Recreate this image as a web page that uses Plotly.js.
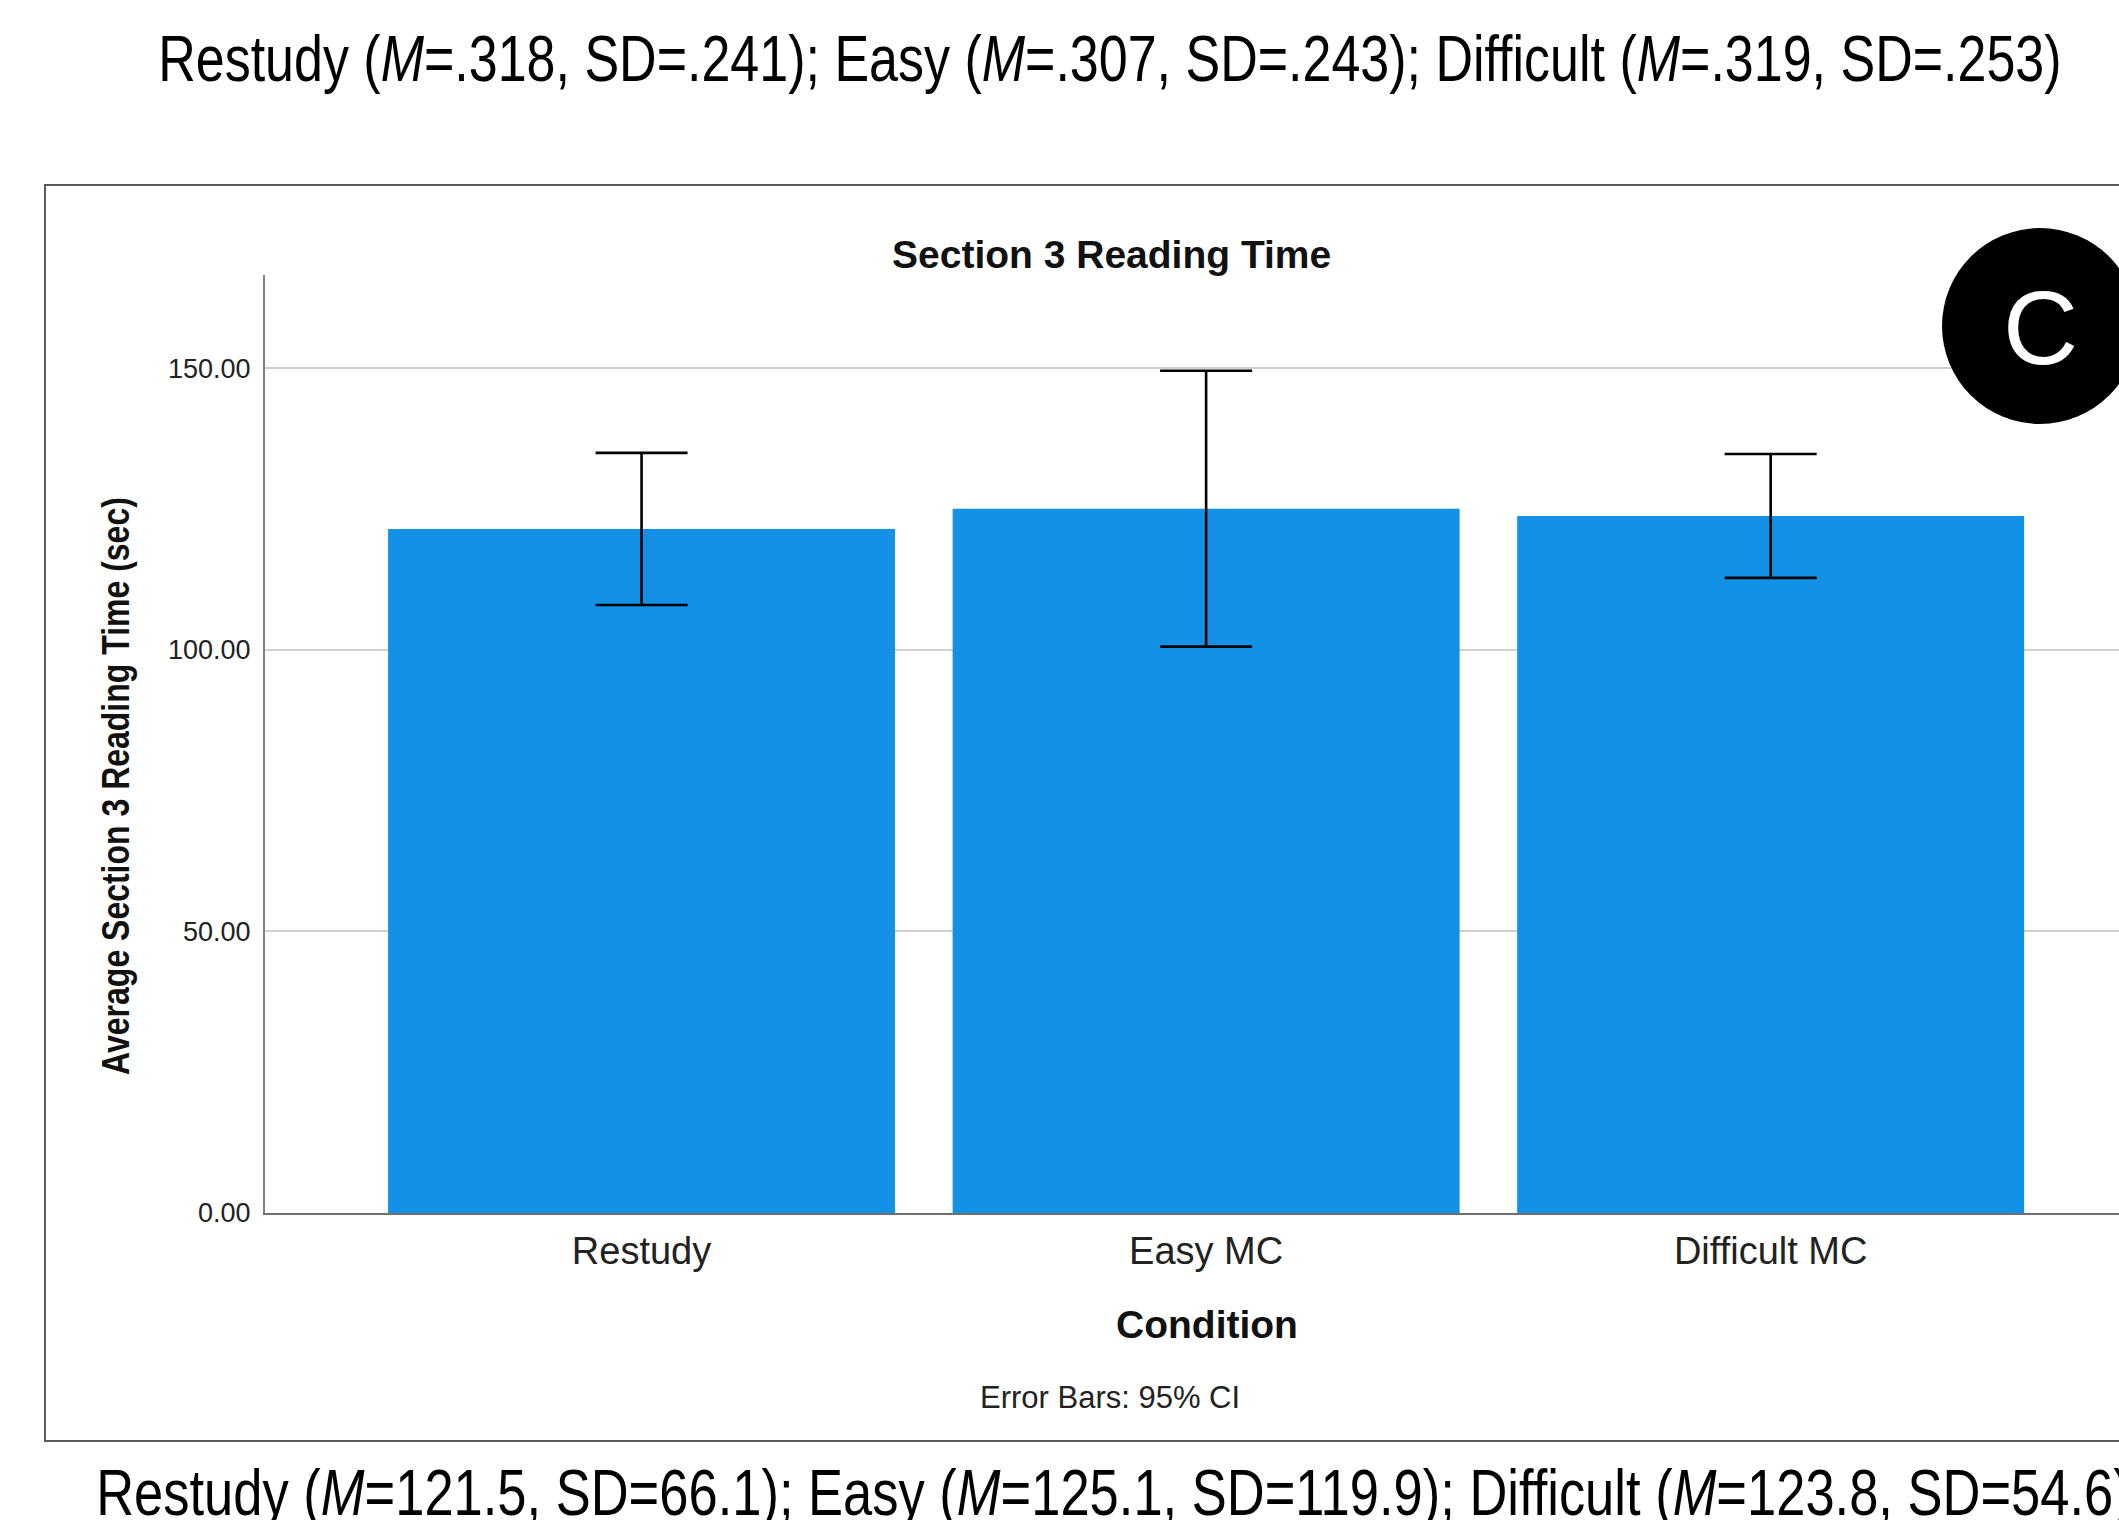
<!DOCTYPE html>
<html>
<head>
<meta charset="utf-8">
<script src="https://cdn.plot.ly/plotly-3.0.1.min.js"></script>
<style>
html,body{margin:0;padding:0;background:#fff;}
#chart{width:2119px;height:1520px;}
/* the reference's text is vertically stretched (condensed look) */
.annotation[data-index="0"] text.annotation-text,
.annotation[data-index="1"] text.annotation-text {
  transform-box: fill-box; transform-origin: center; transform: scaleY(1.24);
}
.annotation[data-index="4"] text.annotation-text {
  transform-box: fill-box; transform-origin: center; transform: scaleY(1.2);
}
</style>
</head>
<body>
<div id="chart"></div>
<script>
// ---- data ----
const categories = ['Restudy', 'Easy MC', 'Difficult MC'];
const meanTime = [121.5, 125.1, 123.8];      // mean section 3 reading time (sec)
const ci95 = [13.5, 24.5, 11.0];             // 95% CI half-widths
const yTickVals = [0, 50, 100, 150];
const topNote = 'Restudy (<i>M</i>=.318, SD=.241); Easy (<i>M</i>=.307, SD=.243); Difficult (<i>M</i>=.319, SD=.253)';
const bottomNote = 'Restudy (<i>M</i>=121.5, SD=66.1); Easy (<i>M</i>=125.1, SD=119.9); Difficult (<i>M</i>=123.8, SD=54.6)';
const chartTitle = 'Section 3 Reading Time';
const xTitle = 'Condition';
const yTitle = 'Average Section 3 Reading Time (sec)';
const footNote = 'Error Bars: 95% CI';
const panelLetter = 'C';

// ---- geometry helpers (pixel -> paper) ----
const W = 2119, H = 1520;
const L = 265, R = 0, T = 275, B = 307;
const PW = W - L - R, PH = H - T - B;
const px = v => (v - L) / PW;
const py = v => (H - B - v) / PH;

const arial = 'Liberation Sans, Arial, sans-serif';

const trace = {
  type: 'bar',
  x: categories,
  y: meanTime,
  marker: {color: '#1391e6', line: {width: 0}},
  error_y: {type: 'data', array: ci95, visible: true, color: '#000000', thickness: 2.6, width: 46},
  hoverinfo: 'skip'
};

const layout = {
  width: W, height: H,
  margin: {l: L, r: R, t: T, b: B, pad: 0},
  paper_bgcolor: '#ffffff',
  plot_bgcolor: '#ffffff',
  showlegend: false,
  bargap: 0.102,
  xaxis: {
    type: 'category',
    range: [-0.667, 2.617],
    showline: true, linecolor: '#707070', linewidth: 2,
    showgrid: false, zeroline: false,
    ticks: '', ticklabelstandoff: 3,
    tickfont: {family: arial, size: 38, color: '#222222'}
  },
  yaxis: {
    range: [0, 166.6],
    tickvals: yTickVals,
    tickformat: '.2f',
    showline: true, linecolor: '#808080', linewidth: 2,
    showgrid: true, gridcolor: '#d0d0d0', gridwidth: 2,
    zeroline: false,
    ticks: '', ticklabelstandoff: 7,
    tickfont: {family: arial, size: 27, color: '#222222'}
  },
  shapes: [
    {type: 'rect', xref: 'paper', yref: 'paper', x0: px(45), x1: px(2135), y0: py(1441), y1: py(185),
     line: {color: '#5a5a5a', width: 2}, fillcolor: 'rgba(0,0,0,0)', layer: 'above'},
    {type: 'circle', xref: 'paper', yref: 'paper', x0: px(2040 - 98), x1: px(2040 + 98), y0: py(326 + 98), y1: py(326 - 98),
     line: {width: 0}, fillcolor: '#000000', layer: 'above'}
  ],
  annotations: [
    {text: topNote, xref: 'paper', yref: 'paper', x: px(1110), y: py(59), xanchor: 'center', yanchor: 'middle',
     showarrow: false, font: {family: arial, size: 52, color: '#000'}},
    {text: bottomNote, xref: 'paper', yref: 'paper', x: px(94), y: py(1492), xanchor: 'left', yanchor: 'middle',
     showarrow: false, font: {family: arial, size: 52.5, color: '#000'}},
    {text: '<b>' + chartTitle + '</b>', xref: 'paper', yref: 'paper', x: px(1111), y: py(254), xanchor: 'center', yanchor: 'middle',
     showarrow: false, font: {family: arial, size: 39, color: '#111'}},
    {text: '<b>' + xTitle + '</b>', xref: 'paper', yref: 'paper', x: px(1207), y: py(1324), xanchor: 'center', yanchor: 'middle',
     showarrow: false, font: {family: arial, size: 39, color: '#111'}},
    {text: '<b>' + yTitle + '</b>', xref: 'paper', yref: 'paper', x: px(116), y: py(786), xanchor: 'center', yanchor: 'middle',
     textangle: -90, showarrow: false, font: {family: arial, size: 32, color: '#111'}},
    {text: footNote, xref: 'paper', yref: 'paper', x: px(1110), y: py(1397), xanchor: 'center', yanchor: 'middle',
     showarrow: false, font: {family: arial, size: 31, color: '#222'}},
    {text: panelLetter, xref: 'paper', yref: 'paper', x: px(2040), y: py(328), xanchor: 'center', yanchor: 'middle',
     showarrow: false, font: {family: arial, size: 104, color: '#ffffff'}}
  ]
};

Plotly.newPlot('chart', [trace], layout, {staticPlot: true, displayModeBar: false});
</script>
</body>
</html>
